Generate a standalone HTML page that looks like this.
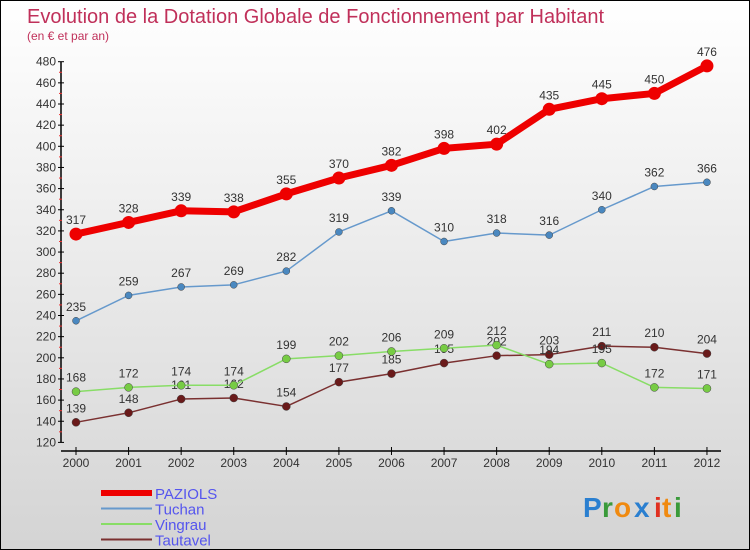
<!DOCTYPE html>
<html><head><meta charset="utf-8">
<style>
html,body{margin:0;padding:0}
body{width:750px;height:550px;overflow:hidden;font-family:"Liberation Sans",sans-serif}
#wrap{position:relative;width:748px;height:548px;border:1px solid #000;background:linear-gradient(#ffffff,#d4d4d4)}
</style></head><body>
<div id="wrap">
<svg id="chart" width="748" height="548" style="position:absolute;left:0;top:0">
<text x="26" y="22" font-size="20" fill="#c0305a">Evolution de la Dotation Globale de Fonctionnement par Habitant</text>
<text x="26" y="39" font-size="12" fill="#c0305a">(en € et par an)</text>
<g id="axes"></g>
<g id="series"></g>
<g id="legend"></g>
<g font-size="28" font-weight="bold">
<text x="582" y="516" fill="#2a7fd0">P</text>
<text x="601" y="516" fill="#3a9a3a">r</text>
<text x="613" y="516" fill="#f08a10">o</text>
<text x="633" y="516" fill="#2a7fd0">x</text>
<text x="653" y="516" fill="#e03020">i</text>
<text x="661" y="516" fill="#f08a10">t</text>
<text x="673" y="516" fill="#3a9a3a">i</text>
</g>
</svg>
</div>
<script>
const years=["2000","2001","2002","2003","2004","2005","2006","2007","2008","2009","2010","2011","2012"];
const yTicks=[120,140,160,180,200,220,240,260,280,300,320,340,360,380,400,420,440,460,480];
const paziols=[317,328,339,338,355,370,382,398,402,435,445,450,476];
const tuchan=[235,259,267,269,282,319,339,310,318,316,340,362,366];
const vingrau=[168,172,174,174,199,202,206,209,212,194,195,172,171];
const tautavel=[139,148,161,162,154,177,185,195,202,203,211,210,204];
const NS="http://www.w3.org/2000/svg";
const X=i=>75+i*52.58;
const Y=v=>60.7+(480-v)*1.0575;
function mk(tag,attrs,parent){const e=document.createElementNS(NS,tag);for(const k in attrs)e.setAttribute(k,attrs[k]);parent.appendChild(e);return e;}
const axes=document.getElementById('axes');
let a=mk('line',{x1:60,y1:Y(480),x2:60,y2:Y(120),stroke:'#000','stroke-width':1.5},axes);


a=mk('line',{x1:60,y1:450,x2:720,y2:450,stroke:'#000','stroke-width':1.5},axes);


yTicks.forEach(v=>{
 mk('line',{x1:57,y1:Y(v),x2:63,y2:Y(v),stroke:'#000'},axes);
 if(v<480)mk('line',{x1:58,y1:Y(v+10),x2:61,y2:Y(v+10),stroke:'#e33'},axes);
 const t=mk('text',{x:55,y:Y(v)+4,'font-size':12,fill:'#333','text-anchor':'end'},axes);
 t.textContent=v;
 
 
});
years.forEach((y,i)=>{
 mk('line',{x1:X(i),y1:446,x2:X(i),y2:454,stroke:'#000'},axes);
 const t=mk('text',{x:X(i),y:466,'font-size':12,fill:'#333','text-anchor':'middle'},axes);
 t.textContent=y;
 
 
});
const ser=document.getElementById('series');
function draw(data,color,dot,w,r,name){
 const g=mk('g',{},ser);
 
 
 const pl=mk('polyline',{points:data.map((v,i)=>X(i)+','+Y(v)).join(' '),fill:'none',stroke:color,'stroke-width':w,'stroke-linejoin':'round'},g);
 
 
 data.forEach((v,i)=>{
  const c=mk('circle',{cx:X(i),cy:Y(v),r:r,fill:dot,stroke:dot==color?'none':'#444','stroke-width':0.5},g);
  
  
  const t=mk('text',{x:X(i),y:Y(v)-10,'font-size':12,fill:'#333','text-anchor':'middle'},g);
  t.textContent=v;
  
  
 });
}
draw(tautavel,'#7a3030','#6a1a1a',1.5,4,'tautavel');
draw(vingrau,'#88dd66','#77cc44',1.5,4,'vingrau');
draw(tuchan,'#6699cc','#4a88c0',1.5,3.5,'tuchan');
draw(paziols,'#ee0000','#ee0000',7,6.5,'paziols');
const lg=document.getElementById('legend');
[['PAZIOLS','#ee0000',6],['Tuchan','#6699cc',2],['Vingrau','#88dd66',2],['Tautavel','#7a3030',2]].forEach((d,i)=>{
 const y=492+i*15.5;
 const l=mk('line',{x1:100,y1:y,x2:151,y2:y,stroke:d[1],'stroke-width':d[2]},lg);
 
 
 const t=mk('text',{x:154,y:y+6,'font-size':15,fill:'#5555ee'},lg);
 t.textContent=d[0];
 
 
});
</script>
</body></html>
